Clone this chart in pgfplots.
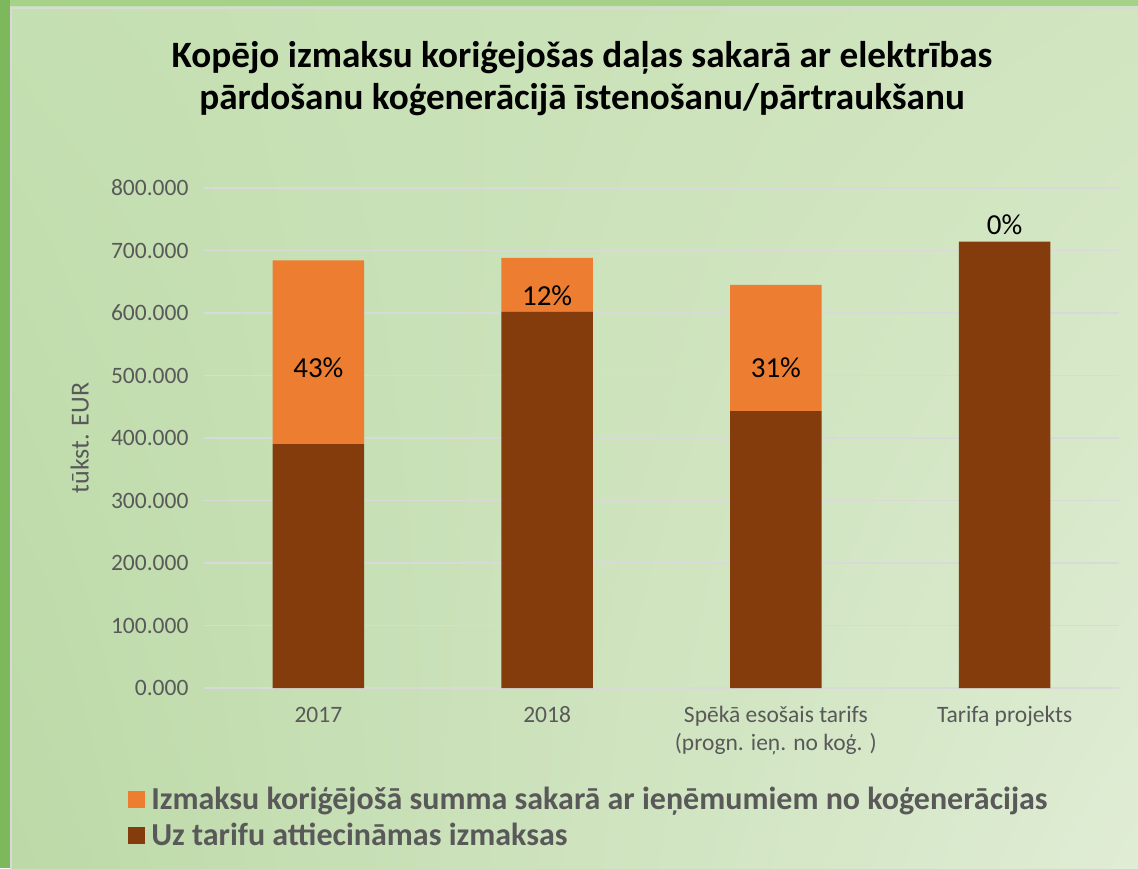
\documentclass[border=0pt]{standalone}
\usepackage{fontspec}
\setmainfont{Carlito}
\usepackage{pgfplots}
\pgfplotsset{compat=1.18}
\usetikzlibrary{shadings}
\definecolor{bandL}{HTML}{7DB85D}
\definecolor{bandT}{HTML}{A5D189}
\definecolor{bgUL}{HTML}{C4DFB1}
\definecolor{bgUR}{HTML}{D1E5C0}
\definecolor{bgLL}{HTML}{BCD9A7}
\definecolor{bgLR}{HTML}{E0EDD5}
\definecolor{orangeS}{HTML}{ED7D31}
\definecolor{brownS}{HTML}{843C0C}
\definecolor{txtgrey}{HTML}{595959}
\definecolor{gridc}{HTML}{D9D9D9}
\begin{document}
\begin{tikzpicture}[x=1pt,y=1pt]
\useasboundingbox (0pt,0pt) rectangle (1138pt,868pt);
\fill[bandT] (0pt,0pt) rectangle (1138pt,868pt);
\fill[bandL] (0pt,0pt) rectangle (10pt,868pt);
\shade[upper left=bgUL, upper right=bgUR, lower left=bgLL, lower right=bgLR] (10pt,0pt) rectangle (1138pt,861pt);
\draw[gridc, line width=2pt] (11pt,-2pt) -- (11pt,860pt) -- (1140pt,860pt);
\node[font=\bfseries\fontsize{37.2}{42}\selectfont, align=center, text=black] at (582pt,789pt)
  {Kopējo izmaksu koriģejošas daļas sakarā ar elektrības\\pārdošanu koģenerācijā īstenošanu/pārtraukšanu};
\begin{axis}[
  at={(204pt,180pt)}, anchor=south west,
  scale only axis, width=915pt, height=500pt,
  xmin=-0.5, xmax=3.5, ymin=0, ymax=800,
  ybar stacked, bar width=0.4,
  xtick={0,1,2,3},
  xticklabels={\strut 2017,\strut 2018,{\strut Spēkā esošais tarifs\\\strut (progn. ieņ. no koģ. )},\strut Tarifa projekts},
  xticklabel style={align=center, anchor=north, text=txtgrey, font=\fontsize{23.5}{28}\selectfont, yshift=-11pt},
  x tick style={draw=none},
  extra x ticks={-0.5,0.5,1.5,2.5,3.5},
  extra x tick labels={},
  extra x tick style={grid=none, tick style={draw=gridc, line width=1.5pt}, major tick length=8pt, tick align=outside},
  ytick={0,100,...,800},
  yticklabel style={text=txtgrey, font=\fontsize{23.5}{28}\selectfont, xshift=-12pt},
  /pgf/number format/assume math mode=true,
  y tick label style={/pgf/number format/.cd, fixed, fixed zerofill, precision=3, 1000 sep={}},
  y tick style={draw=none},
  ymajorgrids, grid style={draw=gridc, line width=1.5pt},
  axis x line*=bottom, axis y line*=left,
  x axis line style={draw=gridc, line width=1.5pt, -},
  y axis line style={draw=none},
  ylabel={tūkst. EUR}, ylabel style={text=txtgrey, font=\fontsize{26}{30}\selectfont, at={(axis description cs:-0.122,0.5)}},
  legend style={at={(axis description cs:-0.083,-0.19)}, anchor=north west, draw=none, fill=none,
    font=\bfseries\fontsize{32}{36}\selectfont, text=txtgrey, row sep=8pt, inner xsep=0pt,
    nodes={inner xsep=6pt}},
  legend cell align=left, reverse legend,
  legend image code/.code={\fill[#1] (0pt,-8.5pt) rectangle (17pt,8.5pt);},
]
\addplot[fill=brownS, draw=none] coordinates {(0,390) (1,602) (2,443) (3,714)};
\addlegendentry{Uz tarifu attiecināmas izmaksas}
\addplot[fill=orangeS, draw=none] coordinates {(0,294) (1,86) (2,202) (3,0)};
\addlegendentry{Izmaksu koriģējošā summa sakarā ar ieņēmumiem no koģenerācijas}
\coordinate (L0) at (axis cs:0,512);
\coordinate (L1) at (axis cs:1,627);
\coordinate (L2) at (axis cs:2,512);
\coordinate (L3) at (axis cs:3,741);
\end{axis}
\foreach \p/\t in {L0/43,L1/12,L2/31,L3/0}
  \node[font=\fontsize{29}{32}\selectfont, text=black] at (\p) {\t\%};
\end{tikzpicture}
\end{document}
